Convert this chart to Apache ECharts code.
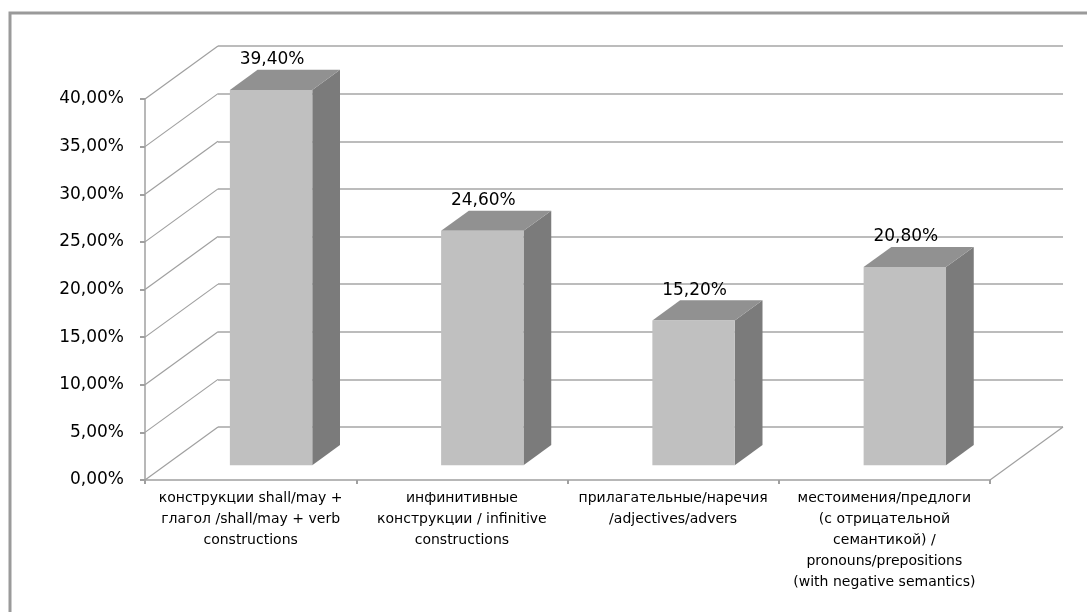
<!DOCTYPE html>
<html>
<head>
<meta charset="utf-8">
<script src="https://cdn.jsdelivr.net/npm/echarts@6/dist/echarts.min.js"></script>
<style>
html,body{margin:0;padding:0;background:#fff;}
#chart{width:1087px;height:612px;}
</style>
</head>
<body>
<div id="chart"></div>
<script>
// ---- data ----
const categories = [
  'конструкции shall/may +\nглагол /shall/may + verb\nconstructions',
  'инфинитивные\nконструкции / infinitive\nconstructions',
  'прилагательные/наречия\n/adjectives/advers',
  'местоимения/предлоги\n(с отрицательной\nсемантикой) /\npronouns/prepositions\n(with negative semantics)'
];
const values = [39.4, 24.6, 15.2, 20.8];
const yTicks = [0, 5, 10, 15, 20, 25, 30, 35, 40];

// ---- 3D look (pixel layout) ----
const DX = 73, DY = -53;          // depth of the chart box
const F0 = 0.28, F1 = 0.66;       // bar depth range (fraction of box depth)
const BAR_W = 0.39;               // bar width as fraction of category band
const FONT = '"DejaVu Sans", "Open Sans", sans-serif';

function fmt(v){ return v.toFixed(2).replace('.', ',') + '%'; }

const chart = echarts.init(document.getElementById('chart'), null, {renderer:'canvas'});

const option = {
  animation: false,
  backgroundColor: '#fff',
  graphic: [{
    type: 'rect', z: 0,
    shape: {x: 10, y: 13, width: 1200, height: 800},
    style: {fill: 'none', stroke: '#9a9a9a', lineWidth: 3}
  }],
  grid: [
    {left: 145, right: 97, top: 99, bottom: 132},
    {left: 145 + DX, right: 97 - DX, top: 99 + DY, bottom: 132 - DY}
  ],
  xAxis: [
    {
      type: 'category', gridIndex: 0, data: categories,
      axisLine: {lineStyle: {color: '#a0a0a0', width: 1.5}},
      axisTick: {show: true, length: 4, lineStyle: {color: '#a0a0a0', width: 2}},
      axisLabel: {interval: 0, margin: 8, color: '#000', fontFamily: FONT, fontSize: 14, lineHeight: 21, align: 'center'},
      z: 3
    },
    {type: 'value', gridIndex: 1, show: false, min: 0, max: 1}
  ],
  yAxis: [
    {
      type: 'value', gridIndex: 0, min: 0, max: 40, interval: 5,
      axisLine: {show: true, lineStyle: {color: '#a0a0a0', width: 1.5}},
      axisTick: {show: true, length: 5, inside: false, lineStyle: {color: '#a0a0a0', width: 2}},
      axisLabel: {margin: 21, color: '#000', fontFamily: FONT, fontSize: 17, formatter: fmt},
      splitLine: {show: false},
      z: 3
    },
    {
      type: 'value', gridIndex: 1, min: 0, max: 40, interval: 5,
      axisLine: {show: false}, axisTick: {show: false}, axisLabel: {show: false},
      splitLine: {show: true, lineStyle: {color: '#a6a6a6', width: 1.5}}
    }
  ],
  series: [
    {
      // left-wall diagonals and right floor edge
      type: 'custom', xAxisIndex: 0, yAxisIndex: 0, z: 1, silent: true,
      data: yTicks.map(t => [0, t]),
      renderItem: function(params, api){
        const t = api.value(1);
        const band = api.size([1, 0])[0];
        const p = api.coord([0, t]);
        const x0 = p[0] - band / 2;
        const children = [{
          type: 'line',
          shape: {x1: x0, y1: p[1], x2: x0 + DX, y2: p[1] + DY},
          style: {stroke: '#a0a0a0', lineWidth: 1.2}
        }];
        if (t === 0) {
          const q = api.coord([categories.length - 1, 0]);
          const x1 = q[0] + band / 2;
          children.push({
            type: 'line',
            shape: {x1: x1, y1: q[1], x2: x1 + DX, y2: q[1] + DY},
            style: {stroke: '#a0a0a0', lineWidth: 1.2}
          });
        }
        return {type: 'group', children: children};
      }
    },
    {
      // 3D bars
      type: 'custom', xAxisIndex: 0, yAxisIndex: 0, z: 5,
      data: values.map((v, i) => [i, v]),
      renderItem: function(params, api){
        const i = api.value(0), v = api.value(1);
        const band = api.size([1, 0])[0];
        const base = api.coord([i, 0]);
        const top = api.coord([i, v]);
        const bw = band * BAR_W;
        const ox = DX * F0, oy = DY * F0;
        const dx = DX * (F1 - F0), dy = DY * (F1 - F0);
        const xl = base[0] - bw / 2 + ox, xr = xl + bw;
        const yb = base[1] + oy, yt = top[1] + oy;
        return {
          type: 'group',
          children: [
            {type: 'polygon', shape: {points: [[xr, yt], [xr + dx, yt + dy], [xr + dx, yb + dy], [xr, yb]]},
             style: {fill: '#7b7b7b'}},
            {type: 'polygon', shape: {points: [[xl, yt], [xr, yt], [xr + dx, yt + dy], [xl + dx, yt + dy]]},
             style: {fill: '#919191'}},
            {type: 'rect', shape: {x: xl, y: yt, width: bw, height: yb - yt},
             style: {fill: '#c0c0c0'}},
            {type: 'text', x: (xl + xr) / 2 + 1, y: yt + dy - 10,
             style: {text: fmt(v), fill: '#000', font: '17px ' + FONT, align: 'center', verticalAlign: 'middle'}}
          ]
        };
      }
    }
  ]
};
chart.setOption(option);
</script>
</body>
</html>
